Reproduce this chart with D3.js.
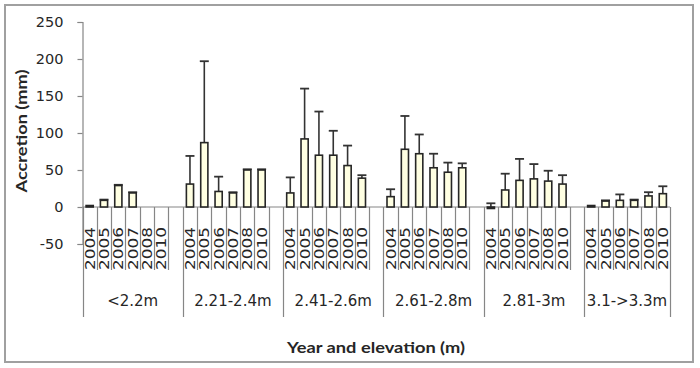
<!DOCTYPE html>
<html>
<head>
<meta charset="utf-8">
<script src="https://cdn.jsdelivr.net/npm/d3@7"></script>
<style>
	body { margin: 0; background: #fff; }
	svg { display: block; }
	.tickLabel { font-family: "DejaVu Sans", sans-serif; font-size: 14.5px; fill: #262626; }
	.yearLabel { font-family: "DejaVu Sans", sans-serif; font-size: 14px; fill: #262626; }
	.groupLabel { font-family: "DejaVu Sans", sans-serif; font-size: 15px; fill: #262626; }
	.axisTitle { font-family: Lato, "DejaVu Sans", sans-serif; font-weight: bold; font-size: 16px; fill: #262626; }
</style>
</head>
<body>
<script>

// Elevation groups, and the years measured in each
var groups = ["<2.2m", "2.21-2.4m", "2.41-2.6m", "2.61-2.8m", "2.81-3m", "3.1->3.3m"];
var years = ["2004", "2005", "2006", "2007", "2008", "2010"];

// Mean accretion (mm), one row per group, one value per year (null = no bar)
var acc_lt22 = [2, 9, 29, 19, null, null];
var acc_221 = [31, 87, 21, 19, 50, 50];
var acc_241 = [19, 92, 70, 70, 56, 39];
var acc_261 = [14, 78, 72, 53, 47, 53];
var acc_281 = [-2, 23, 36, 38, 35, 31];
var acc_31 = [2, 8, 9, 9, 15, 18];

// Plus error bars (mm)
var err_lt22 = [0, 1, 1, 1, null, null];
var err_221 = [38, 110, 20, 1, 1, 1];
var err_241 = [21, 68, 59, 33, 27, 4];
var err_261 = [10, 45, 26, 19, 13, 6];
var err_281 = [7, 22, 29, 20, 14, 12];
var err_31 = [0, 1, 8, 1, 5, 10];

var yTicks = [-50, 0, 50, 100, 150, 200, 250];

var accretion = [acc_lt22, acc_221, acc_241, acc_261, acc_281, acc_31];
var errors = [err_lt22, err_221, err_241, err_261, err_281, err_31];

var width = 700, height = 368;

var svg = d3.select("body").append("svg")
	.attr("width", width).attr("height", height);

// Chart border
svg.append("rect").attr("x", 5).attr("y", 5).attr("width", 688).attr("height", 357)
	.attr("fill", "#fff").attr("stroke", "#a0a0a0").attr("stroke-width", 2);

// Slots: every group gets its years plus one blank slot, except the last
var slots = [];
groups.forEach(function(g, i) {
	years.forEach(function(yr) { slots.push(g + "|" + yr); });
	if (i < groups.length - 1) slots.push(g + "|blank");
});

var x = d3.scaleBand().domain(slots).range([82.5, 670]);
var y = d3.scaleLinear().domain([-50, 250]).range([244, 22]);

// Y axis (plain hyphen for negatives, like the original)
var yAxis = d3.axisLeft(y).tickValues(yTicks).tickSize(5).tickPadding(14)
	.tickFormat(function(d) { return String(d); });
var gy = svg.append("g").attr("transform", "translate(82.5,0)").call(yAxis);
gy.attr("font-family", null).attr("font-size", null);
gy.select(".domain").attr("stroke", "#868686").attr("stroke-width", 1.2);
gy.selectAll(".tick line").attr("stroke", "#868686").attr("stroke-width", 1.2);
gy.selectAll(".tick text").attr("class", "tickLabel");

// Category axis along zero
var zeroY = y(0);
svg.append("line").attr("x1", x.range()[0]).attr("x2", x.range()[1])
	.attr("y1", zeroY).attr("y2", zeroY).attr("stroke", "#868686").attr("stroke-width", 1.2);

// Short dividers between years, long ones between groups
var bounds = slots.map(function(s) { return { x: x(s), first: s.split("|")[1] == years[0] }; });
bounds.push({ x: x.range()[1], first: true });

svg.selectAll(".divider").data(bounds).enter().append("line")
	.classed("divider", true)
	.attr("x1", function(d) { return Math.round(d.x) + 0.5; })
	.attr("x2", function(d) { return Math.round(d.x) + 0.5; })
	.attr("y1", zeroY)
	.attr("y2", function(d) { return d.first ? 317 : 270; })
	.attr("stroke", "#868686").attr("stroke-width", 1.2);

// Year labels
var yearSlots = slots.filter(function(s) { return s.split("|")[1] != "blank"; });
svg.selectAll(".yearLabel").data(yearSlots).enter().append("text")
	.classed("yearLabel", true)
	.attr("transform", function(d) {
		return "translate(" + (x(d) + x.bandwidth() / 2 + 5) + ",227) rotate(-90)";
	})
	.attr("text-anchor", "end")
	.attr("textLength", 43).attr("lengthAdjust", "spacingAndGlyphs")
	.text(function(d) { return d.split("|")[1]; });

// Group labels, centred on the whole group
svg.selectAll(".groupLabel").data(groups).enter().append("text")
	.classed("groupLabel", true)
	.attr("x", function(g, i) {
		var start = x(g + "|" + years[0]);
		var end = i < groups.length - 1 ? x(groups[i + 1] + "|" + years[0]) : x.range()[1];
		return (start + end) / 2;
	})
	.attr("y", 306)
	.attr("text-anchor", "middle")
	.text(function(g) { return g; });

// Flatten values into bar records
var bars = [];
groups.forEach(function(g, i) {
	years.forEach(function(yr, j) {
		if (accretion[i][j] == null) return;
		bars.push({ slot: g + "|" + yr, value: accretion[i][j], err: errors[i][j] });
	});
});

var barW = x.bandwidth() * 0.5;

// Error bars (drawn first, bars sit on top)
var eb = svg.selectAll(".errBar").data(bars.filter(function(d) { return d.err > 0; }))
	.enter().append("g").classed("errBar", true);
eb.append("line")
	.attr("x1", function(d) { return x(d.slot) + x.bandwidth() / 2; })
	.attr("x2", function(d) { return x(d.slot) + x.bandwidth() / 2; })
	.attr("y1", function(d) { return y(d.value); })
	.attr("y2", function(d) { return y(d.value + d.err); })
	.attr("stroke", "#333").attr("stroke-width", 1.6);
eb.append("line")
	.attr("x1", function(d) { return x(d.slot) + x.bandwidth() / 2 - 4.5; })
	.attr("x2", function(d) { return x(d.slot) + x.bandwidth() / 2 + 4.5; })
	.attr("y1", function(d) { return y(d.value + d.err); })
	.attr("y2", function(d) { return y(d.value + d.err); })
	.attr("stroke", "#333").attr("stroke-width", 1.8);

// Bars
svg.selectAll(".bar").data(bars).enter().append("rect")
	.classed("bar", true)
	.attr("x", function(d) { return x(d.slot) + (x.bandwidth() - barW) / 2; })
	.attr("y", function(d) { return y(Math.max(0, d.value)); })
	.attr("width", barW)
	.attr("height", function(d) { return Math.abs(y(d.value) - y(0)); })
	.attr("fill", "#ffffe2").attr("stroke", "#262626").attr("stroke-width", 1.6);

// Axis titles
svg.append("text").classed("axisTitle", true)
	.attr("transform", "translate(27,131) rotate(-90)")
	.attr("text-anchor", "middle")
	.attr("textLength", 123).attr("lengthAdjust", "spacingAndGlyphs")
	.text("Accretion (mm)");

svg.append("text").classed("axisTitle", true)
	.attr("x", 376).attr("y", 353)
	.attr("text-anchor", "middle")
	.attr("textLength", 178).attr("lengthAdjust", "spacingAndGlyphs")
	.text("Year and elevation (m)");

</script>
</body>
</html>
